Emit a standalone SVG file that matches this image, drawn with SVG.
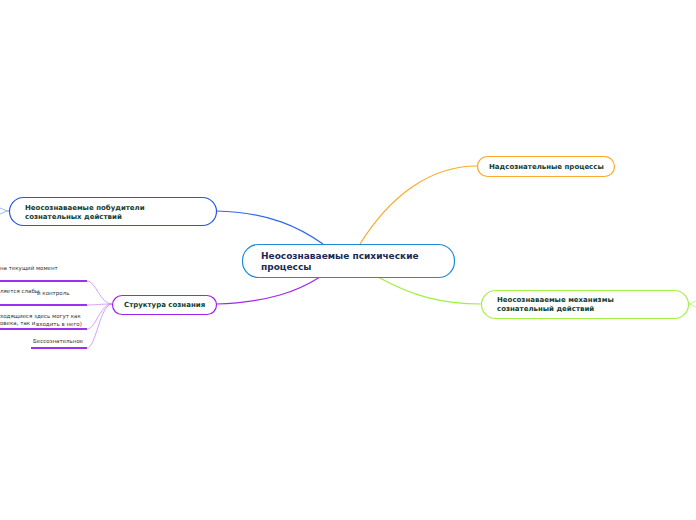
<svg xmlns="http://www.w3.org/2000/svg" width="696" height="520" viewBox="0 0 696 520">
<style>
.t{font-family:"DejaVu Sans",Verdana,sans-serif;font-weight:bold;fill:#123d31}
.leaf{font-family:"DejaVu Sans",Verdana,sans-serif;font-size:5.5px;fill:#333}
.node{fill:#fff;stroke-width:1.2}
.lc{fill:none;stroke:#c98cf5;stroke-width:0.8}
.ul{stroke:#9d2ff0;stroke-width:2}
</style>
<rect width="696" height="520" fill="#fff"/>
<g id="connectors" fill="none">
<path d="M216,211 C270,212 300,228 323,244" stroke="#2f68f0" stroke-width="1.2"/>
<path d="M360,244 C390,196 430,166 477,166" stroke="#fbaa2a" stroke-width="1.2"/>
<path d="M216,304 C270,302 298,291 320,277" stroke="#a225f2" stroke-width="1.2"/>
<path d="M378,277 C412,296 442,304 481,304" stroke="#9ef03a" stroke-width="1.2"/>
<path d="M9,211 C5,211 3,213 0,214 M9,211 C5,211 3,209 0,208" stroke="#7fa4f5" stroke-width="0.8"/>
<path d="M688,304 C691,304 693,302 696,301 M688,304 C691,304 693,306 696,307" stroke="#b6f26a" stroke-width="0.8"/>
<path class="lc" d="M112,304 C100,304 96,281 87,281"/>
<path class="lc" d="M112,304 C100,304 96,305 87,305"/>
<path class="lc" d="M112,304 C100,304 96,329 87,329"/>
<path class="lc" d="M112,304 C100,304 96,348 87,348"/>
</g>
<g id="central">
<rect class="node" x="242.5" y="244.5" width="212" height="33" rx="16" stroke="#1f8ad6"/>
<text class="t" font-size="9" fill="#1b2a55" style="fill:#1b2a55"><tspan x="261" y="259">Неосознаваемые психические</tspan><tspan x="261" y="270">процессы</tspan></text>
</g>
<g id="nadsoznatelnye">
<rect class="node" x="477.5" y="156.5" width="137" height="20" rx="10" stroke="#fbaa2a"/>
<text class="t" font-size="7" x="489" y="169">Надсознательные процессы</text>
</g>
<g id="mehanizmy">
<rect class="node" x="481.5" y="290.5" width="207" height="28" rx="14" stroke="#a6f044"/>
<text class="t" font-size="7"><tspan x="497" y="302">Неосознаваемые механизмы</tspan><tspan x="497" y="311">сознательный действий</tspan></text>
</g>
<g id="pobuditeli">
<rect class="node" x="9.5" y="197.5" width="207" height="28" rx="14" stroke="#2158e8"/>
<text class="t" font-size="7"><tspan x="25" y="210">Неосознаваемые побудители</tspan><tspan x="25" y="219">сознательных действий</tspan></text>
</g>
<g id="struktura">
<rect class="node" x="112.5" y="295.5" width="104" height="19" rx="9.5" stroke="#a020f0"/>
<text class="t" font-size="7" x="124" y="307">Структура сознания</text>
</g>
<g id="leaf1">
<text class="leaf" x="0" y="270">на текущий момент</text>
<line class="ul" x1="0" y1="281" x2="87" y2="281"/>
</g>
<g id="leaf2">
<text class="leaf" x="0" y="293">ляется слабы</text>
<text class="leaf" x="37" y="295">й контроль</text>
<line class="ul" x1="0" y1="305" x2="87" y2="305"/>
</g>
<g id="leaf3">
<text class="leaf" x="0" y="318">ходящиеся здесь могут как</text>
<text class="leaf" x="0" y="325">овека, так и</text>
<text class="leaf" x="36" y="326">входить в него)</text>
<line class="ul" x1="0" y1="329" x2="87" y2="329"/>
</g>
<g id="leaf4">
<text class="leaf" x="33" y="343">Бессознательное</text>
<line class="ul" x1="31" y1="348" x2="87" y2="348"/>
</g>
</svg>
